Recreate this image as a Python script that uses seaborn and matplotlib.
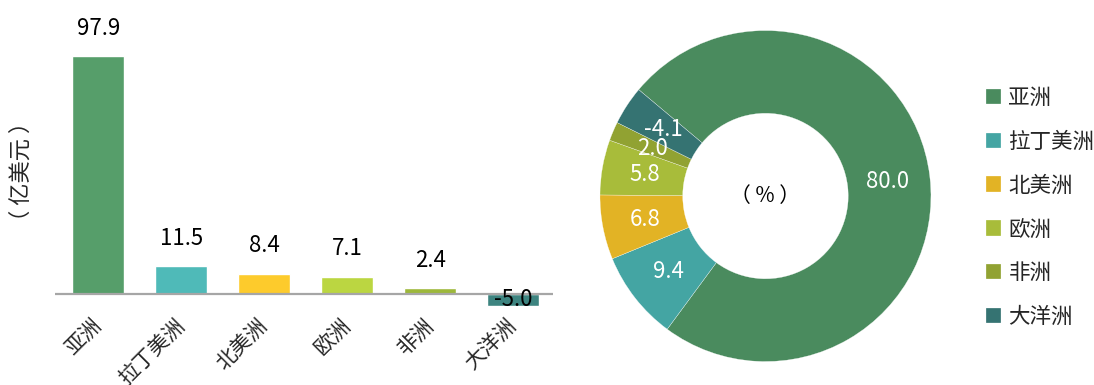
import matplotlib
matplotlib.use("Agg")
import matplotlib.pyplot as plt
import seaborn as sns
import pandas as pd
import numpy as np

# 数据
regions = ["亚洲", "拉丁美洲", "北美洲", "欧洲", "非洲", "大洋洲"]
amounts = [97.9, 11.5, 8.4, 7.1, 2.4, -5.0]
shares = [80.0, 9.4, 6.8, 5.8, 2.0, -4.1]

bar_colors = ["#569E6A", "#4FBAB8", "#FDCB2C", "#BBD641", "#9DB83A", "#3D8480"]
pie_colors = ["#4A8B5E", "#44A5A3", "#E2B325", "#A8BC3A", "#91A232", "#357372"]

sns.set_style("white")
plt.rcParams["font.family"] = ["Noto Sans CJK SC", "DejaVu Sans"]

fig = plt.figure(figsize=(10.94, 3.85), dpi=100)

# 左图：柱状图
ax = fig.add_axes([0.0503, 0.1858, 0.4552, 0.682])
df = pd.DataFrame({"region": regions, "amount": amounts})
sns.barplot(data=df, x="region", y="amount", hue="region", palette=bar_colors,
            width=0.63, legend=False, saturation=1, ax=ax)
ax.set_xlim(-0.52, 5.48)
ax.set_ylim(-8, 100)
ax.axhline(0, color="#A6A6A6", lw=1.6)
for s in ax.spines.values():
    s.set_visible(False)
ax.set_yticks([])
ax.tick_params(axis="x", length=0, pad=6)
ax.set_xlabel("")
ax.set_ylabel("（ 亿美元 ）", fontsize=16)
ax.yaxis.set_label_coords(-0.045, 0.54)
for lbl in ax.get_xticklabels():
    lbl.set_rotation(45)
    lbl.set_ha("right")
    lbl.set_va("center")
    lbl.set_rotation_mode("anchor")
    lbl.set_fontsize(15)
for i, v in enumerate(amounts):
    off = 20 if v > 0 else 5
    ax.annotate(f"{v:.1f}", (i, v), xytext=(0, off), textcoords="offset points",
                ha="center", va="center", fontsize=16, color="black")

# 右图：环形图
ax2 = fig.add_axes([0.5484, 0.061, 0.3026, 0.8597])
wedges, _ = ax2.pie([abs(s) for s in shares], colors=pie_colors, startangle=140,
                    counterclock=False, radius=1,
                    wedgeprops=dict(width=0.5, edgecolor="white", linewidth=0.2))
ax2.set_xlim(-1, 1)
ax2.set_ylim(-1, 1)
for w, s in zip(wedges, shares):
    ang = np.deg2rad((w.theta1 + w.theta2) / 2)
    ax2.text(0.74 * np.cos(ang), 0.74 * np.sin(ang), f"{s:.1f}", ha="center",
             va="center", color="white", fontsize=16)
ax2.text(0, 0, "（ % ）", ha="center", va="center", fontsize=15, color="black")

fig.legend(wedges, regions, loc="upper left", bbox_to_anchor=(0.901, 0.775),
           frameon=False, fontsize=15.5, handlelength=0.7, handleheight=0.7,
           handletextpad=0.35, labelspacing=1.02, borderaxespad=0, borderpad=0)

fig.savefig("out.png", dpi=100)
